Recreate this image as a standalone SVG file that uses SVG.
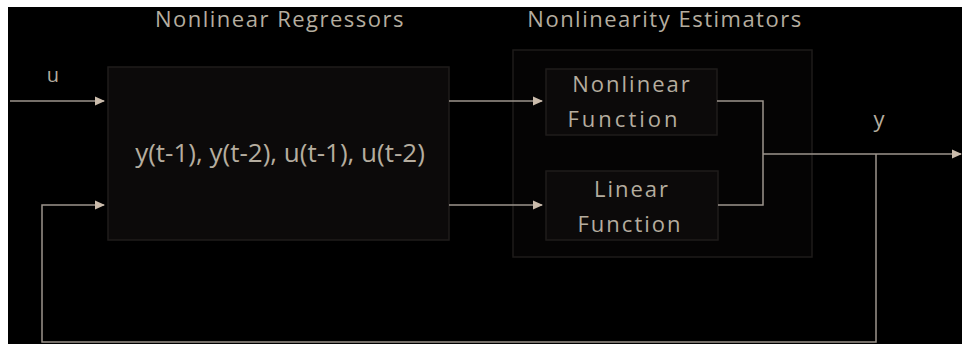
<svg xmlns="http://www.w3.org/2000/svg" width="962" height="348" viewBox="0 0 962 348">
<defs>
<style>
.t{font-family:"Open Sans","Noto Sans",sans-serif;fill:#b5ad9f;text-anchor:middle}
.title{font-size:22px;letter-spacing:1.5px}
.lab{font-size:22px;letter-spacing:2px}
.box{fill:#0c0a0a;stroke:#1f1c1b;stroke-width:1.5}
.ln{fill:none;stroke:#9c948c;stroke-width:1.5}
</style>
<marker id="ah" markerWidth="10" markerHeight="10" refX="9" refY="5" orient="auto" markerUnits="userSpaceOnUse">
<path d="M0,0.5 L10,5 L0,9.5 Z" fill="#cbbcac"/>
</marker>
</defs>
<rect x="0" y="0" width="962" height="348" fill="#ffffff"/>
<rect x="8" y="7" width="954" height="337" fill="#000000"/>
<text class="t title" x="280" y="27">Nonlinear Regressors</text>
<text class="t title" x="665" y="27">Nonlinearity Estimators</text>
<g id="estimators">
<rect x="513" y="50" width="299" height="207" fill="#050404" stroke="#1e1b1a" stroke-width="1.5"/>
</g>
<g id="regressors">
<rect class="box" x="108" y="67" width="341" height="173"/>
<text class="t" x="280" y="162" style="font-size:26px">y(t-1), y(t-2), u(t-1), u(t-2)</text>
</g>
<g id="nonlinear">
<rect class="box" x="546" y="69" width="171" height="66"/>
<text class="t lab" x="632" y="92">Nonlinear</text>
<text class="t lab" x="624" y="127" style="letter-spacing:3px">Function</text>
</g>
<g id="linear">
<rect class="box" x="546" y="171" width="172" height="69"/>
<text class="t lab" x="632" y="197">Linear</text>
<text class="t lab" x="630" y="232">Function</text>
</g>
<g id="connectors">
<path class="ln" d="M10,101 H104" marker-end="url(#ah)"/>
<path class="ln" d="M876,154 V342 H42 V205 H104" marker-end="url(#ah)"/>
<path class="ln" d="M449,101 H542" marker-end="url(#ah)"/>
<path class="ln" d="M449,205 H542" marker-end="url(#ah)"/>
<path class="ln" d="M717,101 H763 V205 H718"/>
<path class="ln" d="M763,154 H961" marker-end="url(#ah)"/>
</g>
<text class="t" x="53" y="82" style="font-size:20px">u</text>
<text class="t" x="879" y="127" style="font-size:22px">y</text>
</svg>
